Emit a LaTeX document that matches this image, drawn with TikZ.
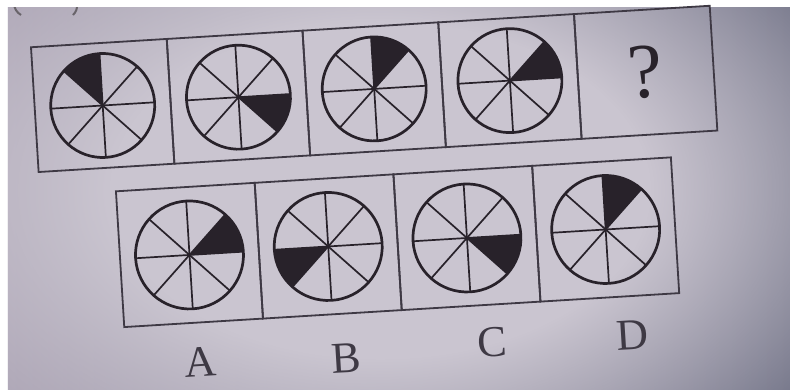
\documentclass[tikz,border=0pt]{standalone}
\usepackage{fontspec}
\setmainfont{Liberation Serif}
\usepackage{xcolor}
\usepackage{tikz}
\usetikzlibrary{positioning, fadings}
\definecolor{paperleft}{RGB}{168,160,177}
\definecolor{paperright}{RGB}{108,110,130}
\definecolor{paperlight}{RGB}{202,197,208}
\definecolor{ink}{RGB}{40,34,42}
\definecolor{boxink}{RGB}{62,57,68}

% soft light patch on the photographed page
\pgfdeclareradialshading{paperglowshade}{\pgfpointorigin}{color(0bp)=(pgftransparent!0); color(12bp)=(pgftransparent!0); color(25bp)=(pgftransparent!100); color(50bp)=(pgftransparent!100)}
\pgfdeclarefading{paperglow}{\pgfuseshading{paperglowshade}}

% wheel of eight sectors: cell node, radius, start angle of the dark sector
\newcommand{\spokewheel}[3]{%
    \fill[ink] (#1.center) -- ++(#3:#2) arc[start angle=#3, delta angle=45, radius=#2] -- cycle;
    \foreach \a in {0,45,90,135}
        \draw[spoke] (#1.center) ++(\a:#2) -- ++(\a+180:#2) -- ++(\a+180:#2);
    \draw[rim] (#1.center) circle[radius=#2];
}

\begin{document}
\begin{tikzpicture}[
    x=1pt, y=1pt,
    cell/.style={draw=boxink, line width=1.8pt, inner sep=0pt, outer sep=0pt},
    toprow/.style={cell, minimum width=136pt, minimum height=125pt},
    optrow/.style={cell, minimum width=139pt, minimum height=136pt},
    rim/.style={draw=ink, line width=2.7pt},
    spoke/.style={draw=ink, line width=1.7pt},
    optlabel/.style={text=boxink, font=\fontsize{44}{48}\selectfont},
]
    % Photo background
    \useasboundingbox (-400,-189) rectangle (390,200);
    \shade[left color=paperleft, right color=paperright] (-392,-189) rectangle (390,193);
    \begin{scope}
        \clip (-392,-189) rectangle (390,193);
        \fill[paperlight, path fading=paperglow] (-580,-340) rectangle (540,360);
        % ends of the brackets from the line above
        \draw[ink!70, line width=2pt] (-386,196) to[bend right=25] (-379,185);
        \draw[ink!70, line width=2pt] (-323,196) to[bend left=25] (-327,185);
    \end{scope}

    \begin{scope}[rotate=3.5, transform shape]
        % Question row
        \node[toprow] (q1) at (-291,112.5) {};
        \node[toprow, right=0pt of q1] (q2) {};
        \node[toprow, right=0pt of q2] (q3) {};
        \node[toprow, right=0pt of q3] (q4) {};
        \node[toprow, right=0pt of q4, text=ink,
              font=\fontsize{78}{80}\selectfont] (q5) {?};
        \spokewheel{q1}{52}{90}
        \spokewheel{q2}{52}{-45}
        \spokewheel{q3}{52}{45}
        \spokewheel{q4}{52}{0}

        % Answer row
        \node[optrow] (optA) at (-213.5,-42) {};
        \node[optrow, right=0pt of optA] (optB) {};
        \node[optrow, right=0pt of optB] (optC) {};
        \node[optrow, right=0pt of optC] (optD) {};
        \spokewheel{optA}{54}{0}
        \spokewheel{optB}{54}{180}
        \spokewheel{optC}{54}{-45}
        \spokewheel{optD}{54}{45}

        % Option letters
        \node[optlabel] (labA) at (-209,-150) {A};
        \node[optlabel] (labB) at (-63,-155) {B};
        \node[optlabel] (labC) at (83,-148) {C};
        \node[optlabel] (labD) at (224,-149) {D};
    \end{scope}
\end{tikzpicture}
\end{document}
